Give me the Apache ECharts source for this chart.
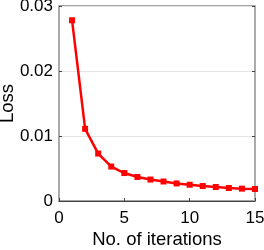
<!DOCTYPE html>
<html><head><meta charset="utf-8">
<script src="https://cdn.jsdelivr.net/npm/echarts@6/dist/echarts.min.js"></script>
<style>html,body{margin:0;padding:0;background:#fff}#c{width:264px;height:250px}</style>
</head><body><div id="c"></div>
<script>
const iterations = [1,2,3,4,5,6,7,8,9,10,11,12,13,14,15];
const loss = [0.0278,0.0111,0.0073,0.0053,0.0043,0.0037,0.0033,0.0030,0.0027,0.0025,0.0023,0.00215,0.0020,0.0019,0.00185];
const xTicks = [0,5,10,15];
const yTicks = [0,0.01,0.02,0.03];
const xTitle = 'No. of iterations';
const yTitle = 'Loss';

const chart = echarts.init(document.getElementById('c'), null, {renderer:'canvas'});
const font = 'Liberation Sans';
chart.setOption({
  animation:false,
  grid:{left:59,right:9,top:6,bottom:49,containLabel:false,outerBoundsMode:'none',show:true,borderColor:'#444',borderWidth:1,backgroundColor:'transparent'},
  xAxis:{type:'value',min:0,max:15,interval:5,
    name:xTitle,nameLocation:'middle',nameGap:29,nameMoveOverlap:false,
    nameTextStyle:{fontFamily:font,fontSize:18.5,color:'#000'},
    axisLine:{show:true,lineStyle:{color:'#444',width:1}},
    axisTick:{show:true,inside:true,length:3,lineStyle:{color:'#444'}},
    axisLabel:{fontFamily:font,fontSize:17,color:'#000',margin:9,formatter:v=>xTicks.includes(v)?String(v):''},
    splitLine:{show:false}},
  yAxis:[{type:'value',min:0,max:0.03,interval:0.01,
    name:yTitle,nameLocation:'middle',nameGap:42,nameMoveOverlap:false,
    nameTextStyle:{fontFamily:font,fontSize:18.5,color:'#000'},
    axisLine:{show:true,lineStyle:{color:'#aaa',width:2}},
    axisTick:{show:true,inside:true,length:3,lineStyle:{color:'#444'}},
    axisLabel:{fontFamily:font,fontSize:17,color:'#000',margin:6,formatter:v=>{const t=yTicks.find(x=>Math.abs(x-v)<1e-9);return t===undefined?'':(t===0?'0':t.toFixed(2));}},
    splitLine:{show:true,lineStyle:{color:'#e6e6e6',width:1}}},
   {type:'value',position:'right',min:0,max:0.03,interval:0.01,
    axisLine:{show:true,lineStyle:{color:'#aaa',width:2}},
    axisTick:{show:true,inside:true,length:3,lineStyle:{color:'#444'}},
    axisLabel:{show:false},splitLine:{show:false}}],
  series:[{type:'line',data:iterations.map((x,i)=>[x,loss[i]]),
    lineStyle:{color:'#ff0000',width:2.5},itemStyle:{color:'#ff0000'},
    symbol:'rect',symbolSize:6,showSymbol:true}]
});
</script></body></html>
